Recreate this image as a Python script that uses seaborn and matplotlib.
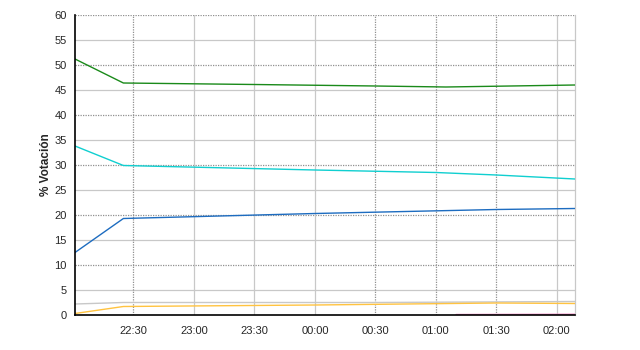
import matplotlib
matplotlib.use("Agg")
import matplotlib.pyplot as plt
import seaborn as sns
import pandas as pd

# ---- data ----
green_times = ["2011-05-22 22:01", "2011-05-22 22:25", "2011-05-22 23:30", "2011-05-23 00:30", "2011-05-23 01:05", "2011-05-23 02:09"]
green_vals = [51.2, 46.4, 46.1, 45.8, 45.6, 46.0]

cyan_times = ["2011-05-22 22:01", "2011-05-22 22:25", "2011-05-23 00:00", "2011-05-23 01:00", "2011-05-23 01:30", "2011-05-23 02:09"]
cyan_vals = [33.8, 29.9, 29.0, 28.5, 28.0, 27.2]

blue_times = ["2011-05-22 22:01", "2011-05-22 22:25", "2011-05-23 00:00", "2011-05-23 01:30", "2011-05-23 02:09"]
blue_vals = [12.5, 19.3, 20.3, 21.1, 21.3]

gray_times = ["2011-05-22 22:01", "2011-05-22 22:25", "2011-05-23 00:30", "2011-05-23 02:09"]
gray_vals = [2.2, 2.5, 2.5, 2.7]

yellow_times = ["2011-05-22 22:01", "2011-05-22 22:25", "2011-05-23 00:00", "2011-05-23 01:30", "2011-05-23 02:09"]
yellow_vals = [0.3, 1.7, 2.0, 2.4, 2.3]

pink_times = ["2011-05-23 01:10", "2011-05-23 02:09"]
pink_vals = [0.1, 0.15]

series_names = ["green", "cyan", "blue", "gray", "yellow", "pink"]
series_colors = ["#1a8a1a", "#10cfd0", "#1d6cc0", "#c8c8c8", "#ffc340", "#f080c0"]

x_ticks = ["22:30", "23:00", "23:30", "00:00", "00:30", "01:00", "01:30", "02:00"]
y_ticks = list(range(0, 61, 5))

# ---- build frame ----
frames = []
for name, t, v in zip(series_names,
                      [green_times, cyan_times, blue_times, gray_times, yellow_times, pink_times],
                      [green_vals, cyan_vals, blue_vals, gray_vals, yellow_vals, pink_vals]):
    frames.append(pd.DataFrame({"time": pd.to_datetime(t), "value": v, "serie": name}))
df = pd.concat(frames, ignore_index=True)

sns.set_style("white")
plt.rcParams["font.family"] = ["Liberation Sans", "DejaVu Sans"]

fig = plt.figure(figsize=(6.4, 3.5), dpi=100)
ax = fig.add_axes([75/640, 1 - 315/350, 500/640, 300/350])

# tick datetimes
day_map = {"22": "2011-05-22", "23": "2011-05-22"}
tick_dt = [pd.Timestamp((day_map.get(s[:2], "2011-05-23")) + " " + s) for s in x_ticks]
dotted_x = {"22:30", "00:30", "01:00", "01:30"}

# grid
for yv in y_ticks:
    if yv == 0:
        continue
    if yv % 10 == 0:
        ax.axhline(yv, color="#909090", lw=0.9, ls=(0, (1, 1)), zorder=1)
    else:
        ax.axhline(yv, color="#c8c8c8", lw=0.9, zorder=1)
for lab, td in zip(x_ticks, tick_dt):
    if lab in dotted_x:
        ax.axvline(td, color="#909090", lw=0.9, ls=(0, (1, 1)), zorder=1)
    else:
        ax.axvline(td, color="#c8c8c8", lw=0.9, zorder=1)

sns.lineplot(data=df, x="time", y="value", hue="serie", hue_order=series_names,
             palette=series_colors, legend=False, ax=ax, lw=1.0, sort=True,
             estimator=None, zorder=3)

ax.set_xlim(pd.Timestamp("2011-05-22 22:01"), pd.Timestamp("2011-05-23 02:09"))
ax.set_ylim(0, 60)
ax.set_yticks(y_ticks)
ax.set_xticks(tick_dt)
ax.set_xticklabels(x_ticks)
ax.tick_params(axis="both", labelsize=8, length=4, width=1, color="black", direction="out", pad=2)
ax.tick_params(axis="x", pad=4)
ax.set_xlabel("")
ax.set_ylabel("% Votación", fontsize=8.5, fontweight="bold", labelpad=2)

ax.spines["top"].set_visible(False)
ax.spines["right"].set_color("#c8c8c8")
ax.spines["right"].set_linewidth(0.9)
ax.spines["left"].set_color("black")
ax.spines["bottom"].set_color("black")
ax.spines["left"].set_linewidth(1.2)
ax.spines["bottom"].set_linewidth(1.2)
ax.spines["left"].set_zorder(5)
ax.spines["bottom"].set_zorder(5)

fig.savefig("out.png", dpi=100)
